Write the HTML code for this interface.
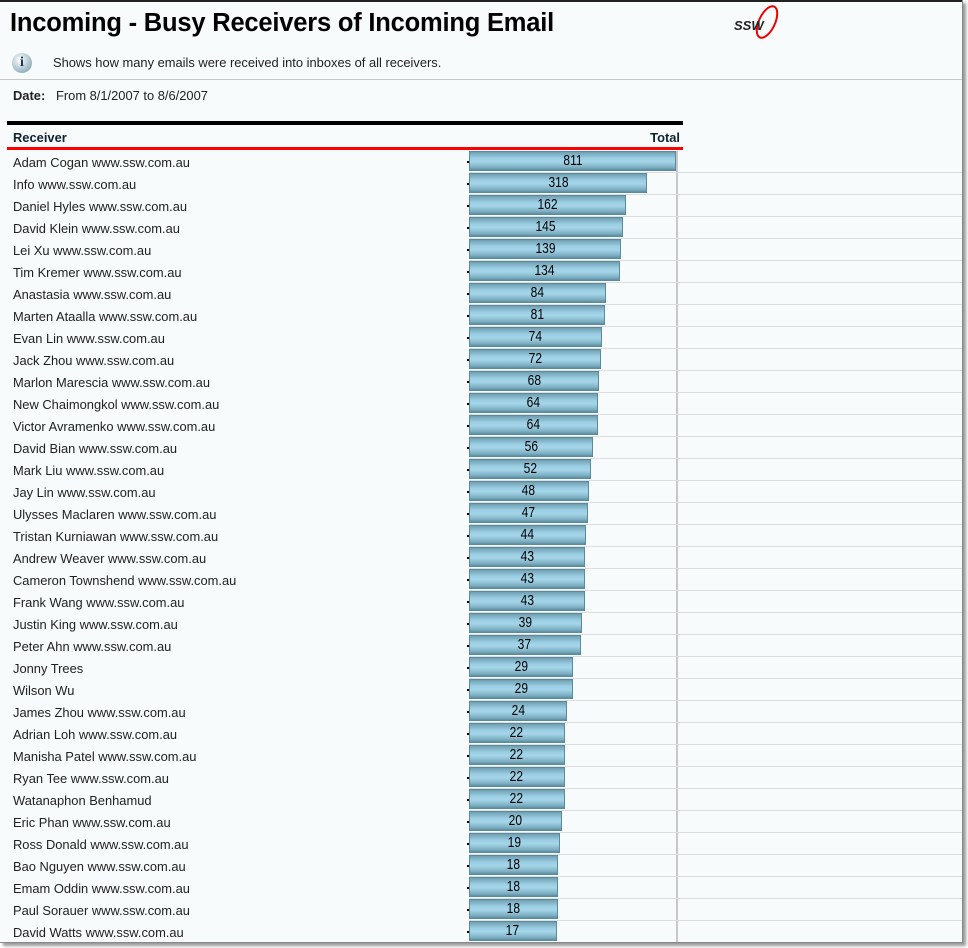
<!DOCTYPE html>
<html><head><meta charset="utf-8"><style>
body{margin:0;width:968px;height:948px;overflow:hidden;background:#fff;font-family:"Liberation Sans",sans-serif;}
#page{position:absolute;left:0;top:0;width:962px;height:942px;background:#f7fbfb;border-right:1px solid #888;border-bottom:1px solid #888;box-shadow:3px 3px 3px #999;overflow:hidden;}
.abs{position:absolute;}
</style></head><body>
<div id="page">
<div class="abs" style="left:0;top:0;width:962px;height:2px;background:#222"></div>
<div class="abs" style="left:10px;top:9px;font-size:25.5px;font-weight:bold;color:#000;letter-spacing:-0.2px">Incoming - Busy Receivers of Incoming Email</div>
<div class="abs" style="left:732px;top:4px;width:50px;height:38px">
<svg width="50" height="38"><ellipse cx="35" cy="18" rx="8" ry="17" fill="none" stroke="#e00" stroke-width="2" transform="rotate(25 35 18)"/><text x="2" y="26" font-family="Liberation Sans" font-weight="bold" font-style="italic" font-size="13" fill="#222">SSW</text></svg></div>
<div class="abs" style="left:12px;top:53px;width:20px;height:20px;border-radius:50%;background:radial-gradient(circle at 40% 35%,#fff,#8ab 80%);text-align:center;font:bold 14px 'Liberation Serif',serif;color:#235;line-height:20px">i</div>
<div class="abs" style="left:53px;top:55px;font-size:12.9px;color:#222">Shows how many emails were received into inboxes of all receivers.</div>
<div class="abs" style="left:0;top:79px;width:962px;height:1px;background:#c8c8c8"></div>
<div class="abs" style="left:13px;top:88px;font-size:12.9px;color:#222"><b>Date:</b>&nbsp;&nbsp; From 8/1/2007 to 8/6/2007</div>
<div class="abs" style="left:7px;top:121px;width:676px;height:4px;background:#000"></div>
<div class="abs" style="left:13px;top:130px;font-size:12.9px;font-weight:bold;color:#123">Receiver</div>
<div class="abs" style="left:630px;top:130px;width:50px;text-align:right;font-size:12.9px;font-weight:bold;color:#123">Total</div>
<div class="abs" style="left:7px;top:147px;width:676px;height:3px;background:#f00"></div>
<div class="abs" style="left:676px;top:151px;width:2px;height:800px;background:#c8c8c8"></div>
<div id="rows"></div>
</div>
<script>
const names=["Adam Cogan www.ssw.com.au","Info www.ssw.com.au","Daniel Hyles www.ssw.com.au","David Klein www.ssw.com.au","Lei Xu www.ssw.com.au","Tim Kremer www.ssw.com.au","Anastasia www.ssw.com.au","Marten Ataalla www.ssw.com.au","Evan Lin www.ssw.com.au","Jack Zhou www.ssw.com.au","Marlon Marescia www.ssw.com.au","New Chaimongkol www.ssw.com.au","Victor Avramenko www.ssw.com.au","David Bian www.ssw.com.au","Mark Liu www.ssw.com.au","Jay Lin www.ssw.com.au","Ulysses Maclaren www.ssw.com.au","Tristan Kurniawan www.ssw.com.au","Andrew Weaver www.ssw.com.au","Cameron Townshend www.ssw.com.au","Frank Wang www.ssw.com.au","Justin King www.ssw.com.au","Peter Ahn www.ssw.com.au","Jonny Trees","Wilson Wu","James Zhou www.ssw.com.au","Adrian Loh www.ssw.com.au","Manisha Patel www.ssw.com.au","Ryan Tee www.ssw.com.au","Watanaphon Benhamud","Eric Phan www.ssw.com.au","Ross Donald www.ssw.com.au","Bao Nguyen www.ssw.com.au","Emam Oddin www.ssw.com.au","Paul Sorauer www.ssw.com.au","David Watts www.ssw.com.au"];
const totals=[811,318,162,145,139,134,84,81,74,72,68,64,64,56,52,48,47,44,43,43,43,39,37,29,29,24,22,22,22,22,20,19,18,18,18,17];
const x0=469,maxW=207;
const maxV=Math.max(...totals);
function xScale(v){return Math.max(2,maxW*Math.log10(v)/Math.log10(maxV));}
const rows=document.getElementById('rows');
names.forEach((n,i)=>{
 const top=151+22*i;
 const lab=document.createElement('div');
 
 
 lab.className='abs';lab.style.cssText=`left:13px;top:${top+4}px;font-size:12.9px;color:#222;white-space:nowrap`;
 lab.textContent=n;rows.appendChild(lab);
 const line=document.createElement('div');
 
 
 line.className='abs';line.style.cssText=`left:469px;top:${top+21}px;width:493px;height:1px;background:#ddd`;
 rows.appendChild(line);
 const tick=document.createElement('div');
 
 
 tick.className='abs';tick.style.cssText=`left:467px;top:${top+10}px;width:2px;height:2px;background:#000`;
 rows.appendChild(tick);
 const w=xScale(totals[i]);
 const bar=document.createElement('div');
 
 
 bar.className='abs';bar.style.cssText=`left:${x0}px;top:${top}px;width:${w}px;height:20px;box-sizing:border-box;border:1px solid #5a8a9e;background:linear-gradient(#6f9fb2,#9ccfe4 35%,#a4d4e8 55%,#7eb0c4 85%,#5d8ea2);font-size:15px;color:#000;text-align:center;line-height:17px`;
 bar.innerHTML=`<span style="display:inline-block;transform:scaleX(0.8)">${totals[i]}</span>`;
 rows.appendChild(bar);
});
</script>
</body></html>
